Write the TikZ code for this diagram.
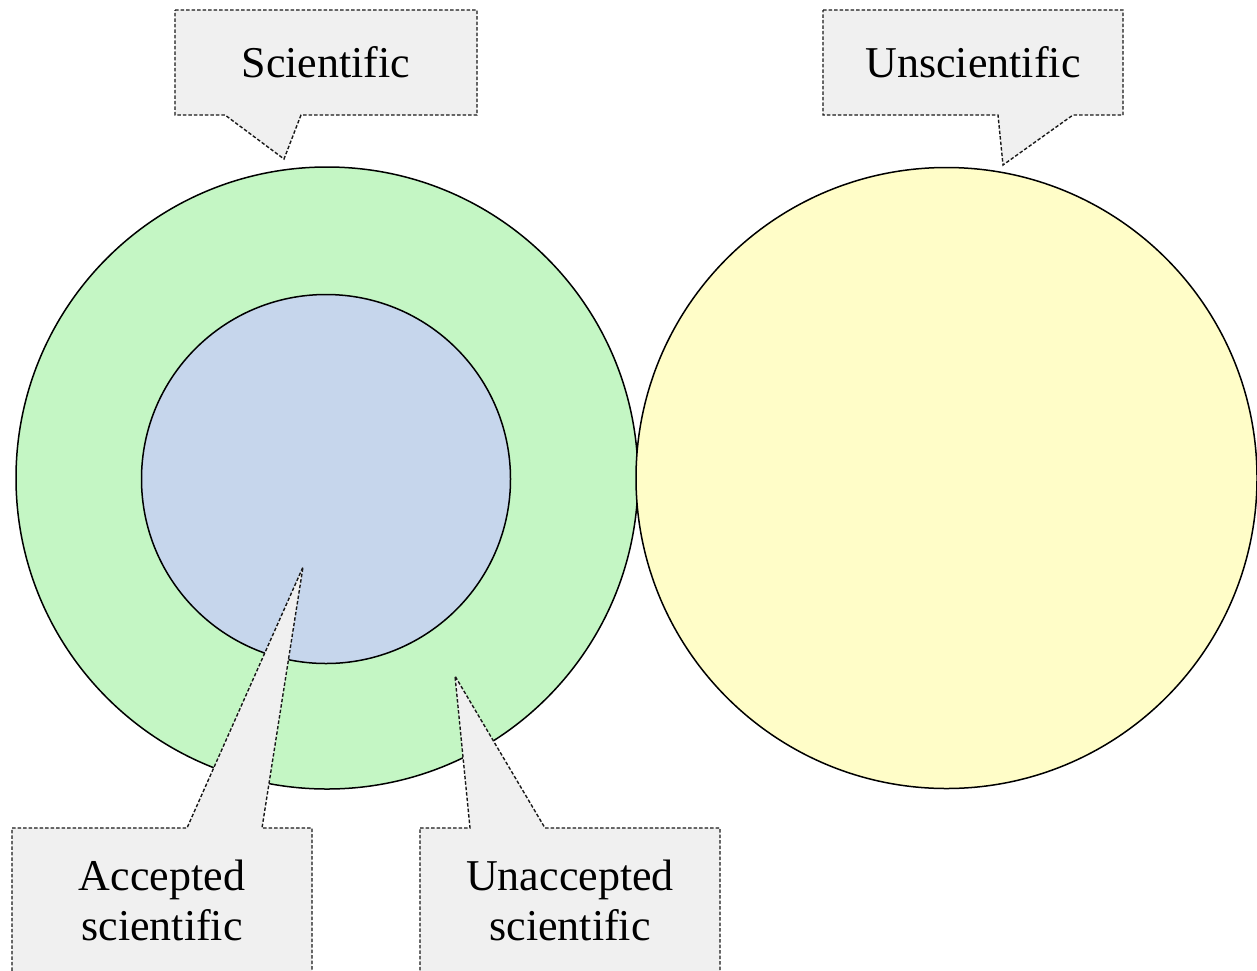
\documentclass[tikz,border=0pt]{standalone}
\usepackage{fontspec}
\setmainfont{Liberation Serif}
\definecolor{sciGreen}{RGB}{196,246,196}
\definecolor{accBlue}{RGB}{198,214,236}
\definecolor{unsYellow}{RGB}{255,253,200}
\definecolor{calloutGray}{RGB}{240,240,240}
\tikzset{
  ring/.style={circle, draw=black, line width=1.5pt, inner sep=0pt},
  callout/.style={draw=black!90, fill=calloutGray, line width=1.4pt, dash pattern=on 3.5pt off 2pt, line join=miter},
  label/.style={font=\fontsize{44}{50}\selectfont, inner sep=0pt, anchor=base, align=center}
}
\begin{document}
\begin{tikzpicture}[x=1pt,y=-1pt]
\useasboundingbox (0,0) rectangle (1257,970);
\clip (0,0) rectangle (1257,970);
% circles
\node[ring, fill=sciGreen, minimum size=622pt] (sci) at (327,478) {};
\node[ring, fill=accBlue, minimum size=369pt] (acc) at (326,479) {};
\node[ring, fill=unsYellow, minimum size=621pt] (uns) at (946.5,478) {};
% callout tips
\coordinate (tipS) at (284,159);
\coordinate (tipU) at (1003,165);
\coordinate (tipA) at (303,567);
\coordinate (tipN) at (455,676);
% callouts
\path[callout] (175,10) -- (477,10) -- (477,115) -- (301,115) -- (tipS) -- (225,115) -- (175,115) -- cycle;
\path[callout] (823,10) -- (1123,10) -- (1123,115) -- (1073,115) -- (tipU) -- (998,115) -- (823,115) -- cycle;
\path[callout] (12,828) -- (187,828) -- (tipA) -- (262,828) -- (312,828) -- (312,1000) -- (12,1000) -- cycle;
\path[callout] (420,828) -- (470,828) -- (tipN) -- (545,828) -- (720,828) -- (720,1000) -- (420,1000) -- cycle;
% texts
\node[label] (tS) at (326,77) {Scientific};
\node[label] (tU) at (973,77) {Unscientific};
\node[label] (tA1) at (162,890) {Accepted};
\node[label] (tA2) at (162,940) {scientific};
\node[label] (tN1) at (570,890) {Unaccepted};
\node[label] (tN2) at (570,940) {scientific};
\end{tikzpicture}
\end{document}
